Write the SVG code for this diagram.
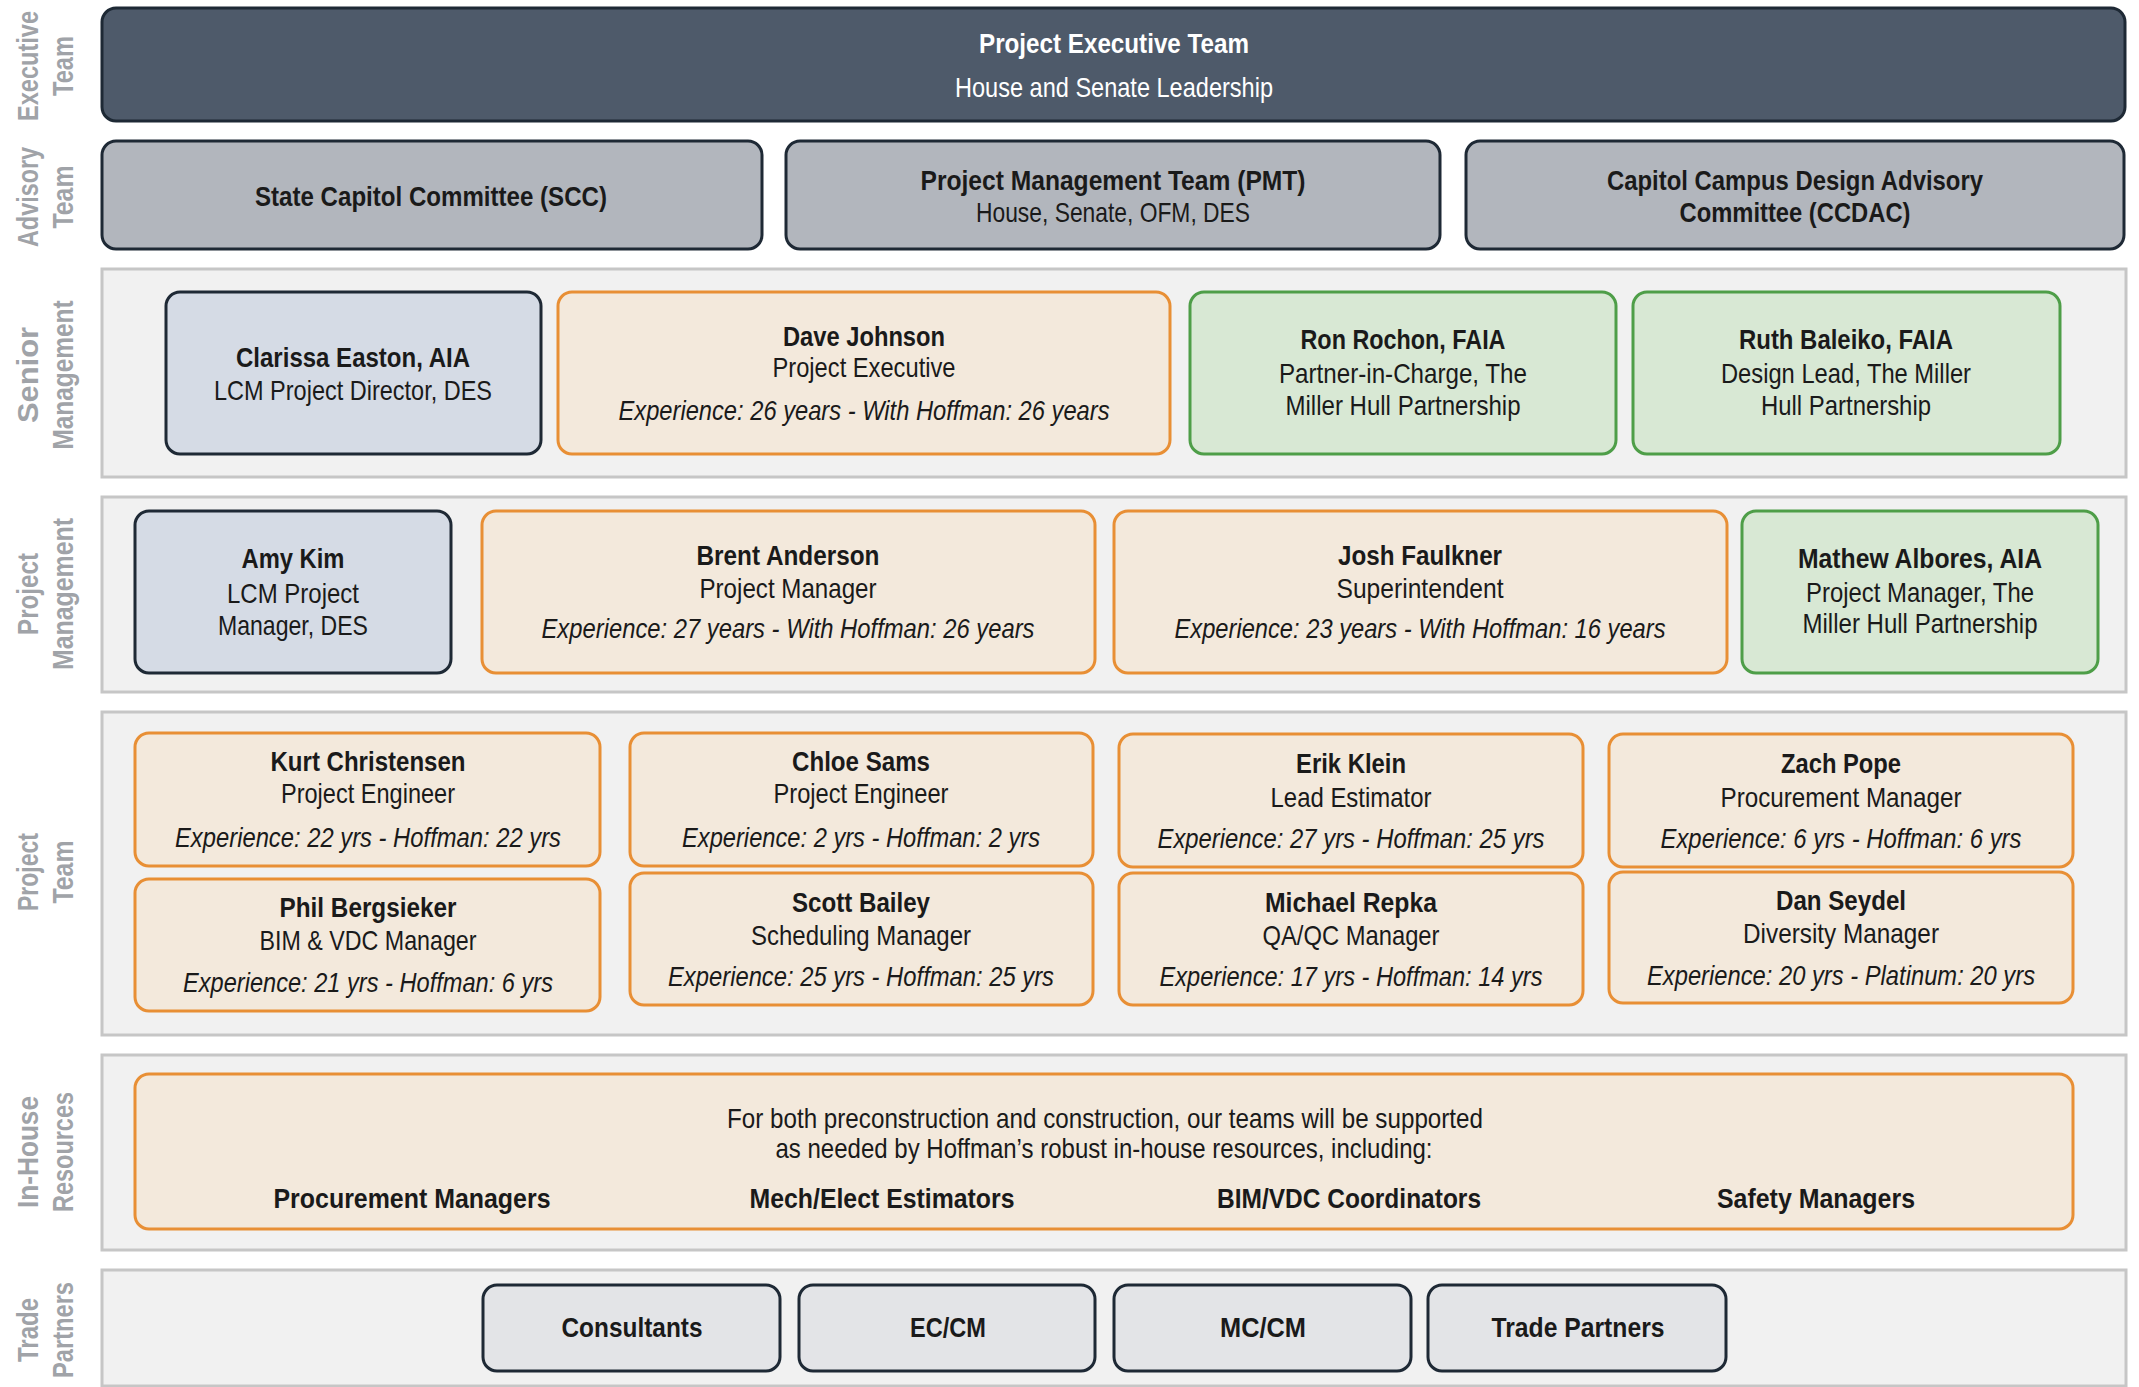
<svg xmlns="http://www.w3.org/2000/svg" width="2139" height="1387" viewBox="0 0 2139 1387">
<style>
.band{fill:#f1f1f1;stroke:#c6c6c6;stroke-width:3}
.exec{fill:#4e5a6a;stroke:#1e2935;stroke-width:3}
.adv{fill:#b2b6bd;stroke:#1e2935;stroke-width:3}
.des{fill:#d5dbe5;stroke:#1e2935;stroke-width:3}
.hof{fill:#f3e9dc;stroke:#e88f35;stroke-width:3}
.mh{fill:#d8e8d4;stroke:#4e9e48;stroke-width:3}
.tp{fill:#e3e4e7;stroke:#1e2935;stroke-width:3}
text{font-family:"Liberation Sans",Arial,sans-serif;font-size:28px;fill:#1a1a1a;text-anchor:middle}
.n{font-weight:bold}
.e{font-style:italic}
.w{fill:#ffffff}
.lbl{font-size:30px;font-weight:bold;fill:#a0a3a8}
</style>
<rect width="2139" height="1387" fill="#ffffff"/>
<g id="labels">
<text class="lbl" transform="translate(38,66) rotate(-90)" font-size="26" textLength="110" lengthAdjust="spacingAndGlyphs">Executive</text>
<text class="lbl" transform="translate(73,66) rotate(-90)" textLength="60" lengthAdjust="spacingAndGlyphs">Team</text>
<text class="lbl" transform="translate(38,197) rotate(-90)" textLength="100" lengthAdjust="spacingAndGlyphs">Advisory</text>
<text class="lbl" transform="translate(73,197) rotate(-90)" textLength="63" lengthAdjust="spacingAndGlyphs">Team</text>
<text class="lbl" transform="translate(38,375) rotate(-90)" textLength="96" lengthAdjust="spacingAndGlyphs">Senior</text>
<text class="lbl" transform="translate(73,375) rotate(-90)" textLength="149" lengthAdjust="spacingAndGlyphs">Management</text>
<text class="lbl" transform="translate(38,594) rotate(-90)" textLength="82" lengthAdjust="spacingAndGlyphs">Project</text>
<text class="lbl" transform="translate(73,594) rotate(-90)" textLength="152" lengthAdjust="spacingAndGlyphs">Management</text>
<text class="lbl" transform="translate(38,872) rotate(-90)" textLength="78" lengthAdjust="spacingAndGlyphs">Project</text>
<text class="lbl" transform="translate(73,872) rotate(-90)" textLength="63" lengthAdjust="spacingAndGlyphs">Team</text>
<text class="lbl" transform="translate(38,1152) rotate(-90)" textLength="112" lengthAdjust="spacingAndGlyphs">In-House</text>
<text class="lbl" transform="translate(73,1152) rotate(-90)" textLength="120" lengthAdjust="spacingAndGlyphs">Resources</text>
<text class="lbl" transform="translate(38,1330) rotate(-90)" textLength="64" lengthAdjust="spacingAndGlyphs">Trade</text>
<text class="lbl" transform="translate(73,1330) rotate(-90)" textLength="96" lengthAdjust="spacingAndGlyphs">Partners</text>
</g>
<g id="bands">
<rect class="band" x="102" y="269" width="2024" height="208"/>
<rect class="band" x="102" y="497" width="2024" height="195"/>
<rect class="band" x="102" y="712" width="2024" height="323"/>
<rect class="band" x="102" y="1055" width="2024" height="195"/>
<rect class="band" x="102" y="1270" width="2024" height="116"/>
</g>
<g id="executive">
<rect class="exec" x="102" y="8" width="2023" height="113" rx="14"/>
<text class="n w" x="1114" y="53" textLength="270" lengthAdjust="spacingAndGlyphs">Project Executive Team</text>
<text class="w" x="1114" y="97" textLength="318" lengthAdjust="spacingAndGlyphs">House and Senate Leadership</text>
</g>
<g id="scc">
<rect class="adv" x="102" y="141" width="660" height="108" rx="14"/>
<text class="n" x="431" y="206" font-size="29" textLength="352" lengthAdjust="spacingAndGlyphs">State Capitol Committee (SCC)</text>
</g>
<g id="pmt">
<rect class="adv" x="786" y="141" width="654" height="108" rx="14"/>
<text class="n" x="1113" y="190" textLength="385" lengthAdjust="spacingAndGlyphs">Project Management Team (PMT)</text>
<text x="1113" y="222" textLength="274" lengthAdjust="spacingAndGlyphs">House, Senate, OFM, DES</text>
</g>
<g id="ccdac">
<rect class="adv" x="1466" y="141" width="658" height="108" rx="14"/>
<text class="n" x="1795" y="190" textLength="376" lengthAdjust="spacingAndGlyphs">Capitol Campus Design Advisory</text>
<text class="n" x="1795" y="222" textLength="231" lengthAdjust="spacingAndGlyphs">Committee (CCDAC)</text>
</g>
<g id="clarissa">
<rect class="des" x="166" y="292" width="375" height="162" rx="14"/>
<text class="n" x="353" y="367" textLength="234" lengthAdjust="spacingAndGlyphs">Clarissa Easton, AIA</text>
<text x="353" y="400" textLength="278" lengthAdjust="spacingAndGlyphs">LCM Project Director, DES</text>
</g>
<g id="dave">
<rect class="hof" x="558" y="292" width="612" height="162" rx="14"/>
<text class="n" x="864" y="346" textLength="162" lengthAdjust="spacingAndGlyphs">Dave Johnson</text>
<text x="864" y="377" textLength="183" lengthAdjust="spacingAndGlyphs">Project Executive</text>
<text class="e" x="864" y="420" textLength="491" lengthAdjust="spacingAndGlyphs">Experience: 26 years - With Hoffman: 26 years</text>
</g>
<g id="ron">
<rect class="mh" x="1190" y="292" width="426" height="162" rx="14"/>
<text class="n" x="1403" y="349" textLength="205" lengthAdjust="spacingAndGlyphs">Ron Rochon, FAIA</text>
<text x="1403" y="383" textLength="248" lengthAdjust="spacingAndGlyphs">Partner-in-Charge, The</text>
<text x="1403" y="415" textLength="235" lengthAdjust="spacingAndGlyphs">Miller Hull Partnership</text>
</g>
<g id="ruth">
<rect class="mh" x="1633" y="292" width="427" height="162" rx="14"/>
<text class="n" x="1846" y="349" textLength="214" lengthAdjust="spacingAndGlyphs">Ruth Baleiko, FAIA</text>
<text x="1846" y="383" textLength="250" lengthAdjust="spacingAndGlyphs">Design Lead, The Miller</text>
<text x="1846" y="415" textLength="170" lengthAdjust="spacingAndGlyphs">Hull Partnership</text>
</g>
<g id="amy">
<rect class="des" x="135" y="511" width="316" height="162" rx="14"/>
<text class="n" x="293" y="568" textLength="103" lengthAdjust="spacingAndGlyphs">Amy Kim</text>
<text x="293" y="603" textLength="132" lengthAdjust="spacingAndGlyphs">LCM Project</text>
<text x="293" y="635" textLength="150" lengthAdjust="spacingAndGlyphs">Manager, DES</text>
</g>
<g id="brent">
<rect class="hof" x="482" y="511" width="613" height="162" rx="14"/>
<text class="n" x="788" y="565" textLength="183" lengthAdjust="spacingAndGlyphs">Brent Anderson</text>
<text x="788" y="598" textLength="177" lengthAdjust="spacingAndGlyphs">Project Manager</text>
<text class="e" x="788" y="638" textLength="493" lengthAdjust="spacingAndGlyphs">Experience: 27 years - With Hoffman: 26 years</text>
</g>
<g id="josh">
<rect class="hof" x="1114" y="511" width="613" height="162" rx="14"/>
<text class="n" x="1420" y="565" textLength="164" lengthAdjust="spacingAndGlyphs">Josh Faulkner</text>
<text x="1420" y="598" textLength="167" lengthAdjust="spacingAndGlyphs">Superintendent</text>
<text class="e" x="1420" y="638" textLength="491" lengthAdjust="spacingAndGlyphs">Experience: 23 years - With Hoffman: 16 years</text>
</g>
<g id="mathew">
<rect class="mh" x="1742" y="511" width="356" height="162" rx="14"/>
<text class="n" x="1920" y="568" textLength="244" lengthAdjust="spacingAndGlyphs">Mathew Albores, AIA</text>
<text x="1920" y="602" textLength="228" lengthAdjust="spacingAndGlyphs">Project Manager, The</text>
<text x="1920" y="633" textLength="235" lengthAdjust="spacingAndGlyphs">Miller Hull Partnership</text>
</g>
<g id="kurt">
<rect class="hof" x="135" y="733" width="465" height="133" rx="14"/>
<text class="n" x="368" y="771" textLength="195" lengthAdjust="spacingAndGlyphs">Kurt Christensen</text>
<text x="368" y="803" textLength="174" lengthAdjust="spacingAndGlyphs">Project Engineer</text>
<text class="e" x="368" y="847" textLength="386" lengthAdjust="spacingAndGlyphs">Experience: 22 yrs - Hoffman: 22 yrs</text>
</g>
<g id="chloe">
<rect class="hof" x="630" y="733" width="463" height="133" rx="14"/>
<text class="n" x="861" y="771" textLength="138" lengthAdjust="spacingAndGlyphs">Chloe Sams</text>
<text x="861" y="803" textLength="175" lengthAdjust="spacingAndGlyphs">Project Engineer</text>
<text class="e" x="861" y="847" textLength="358" lengthAdjust="spacingAndGlyphs">Experience: 2 yrs - Hoffman: 2 yrs</text>
</g>
<g id="erik">
<rect class="hof" x="1119" y="734" width="464" height="133" rx="14"/>
<text class="n" x="1351" y="773" textLength="110" lengthAdjust="spacingAndGlyphs">Erik Klein</text>
<text x="1351" y="807" textLength="161" lengthAdjust="spacingAndGlyphs">Lead Estimator</text>
<text class="e" x="1351" y="848" textLength="387" lengthAdjust="spacingAndGlyphs">Experience: 27 yrs - Hoffman: 25 yrs</text>
</g>
<g id="zach">
<rect class="hof" x="1609" y="734" width="464" height="133" rx="14"/>
<text class="n" x="1841" y="773" textLength="120" lengthAdjust="spacingAndGlyphs">Zach Pope</text>
<text x="1841" y="807" textLength="241" lengthAdjust="spacingAndGlyphs">Procurement Manager</text>
<text class="e" x="1841" y="848" textLength="361" lengthAdjust="spacingAndGlyphs">Experience: 6 yrs - Hoffman: 6 yrs</text>
</g>
<g id="phil">
<rect class="hof" x="135" y="879" width="465" height="132" rx="14"/>
<text class="n" x="368" y="917" textLength="177" lengthAdjust="spacingAndGlyphs">Phil Bergsieker</text>
<text x="368" y="950" textLength="217" lengthAdjust="spacingAndGlyphs">BIM &amp; VDC Manager</text>
<text class="e" x="368" y="992" textLength="370" lengthAdjust="spacingAndGlyphs">Experience: 21 yrs - Hoffman: 6 yrs</text>
</g>
<g id="scott">
<rect class="hof" x="630" y="873" width="463" height="132" rx="14"/>
<text class="n" x="861" y="912" textLength="138" lengthAdjust="spacingAndGlyphs">Scott Bailey</text>
<text x="861" y="945" textLength="220" lengthAdjust="spacingAndGlyphs">Scheduling Manager</text>
<text class="e" x="861" y="986" textLength="386" lengthAdjust="spacingAndGlyphs">Experience: 25 yrs - Hoffman: 25 yrs</text>
</g>
<g id="michael">
<rect class="hof" x="1119" y="873" width="464" height="132" rx="14"/>
<text class="n" x="1351" y="912" textLength="172" lengthAdjust="spacingAndGlyphs">Michael Repka</text>
<text x="1351" y="945" textLength="177" lengthAdjust="spacingAndGlyphs">QA/QC Manager</text>
<text class="e" x="1351" y="986" textLength="383" lengthAdjust="spacingAndGlyphs">Experience: 17 yrs - Hoffman: 14 yrs</text>
</g>
<g id="dan">
<rect class="hof" x="1609" y="872" width="464" height="131" rx="14"/>
<text class="n" x="1841" y="910" textLength="130" lengthAdjust="spacingAndGlyphs">Dan Seydel</text>
<text x="1841" y="943" textLength="196" lengthAdjust="spacingAndGlyphs">Diversity Manager</text>
<text class="e" x="1841" y="985" textLength="388" lengthAdjust="spacingAndGlyphs">Experience: 20 yrs - Platinum: 20 yrs</text>
</g>
<g id="inhouse">
<rect class="hof" x="135" y="1074" width="1938" height="155" rx="14"/>
<text x="1105" y="1128" textLength="756" lengthAdjust="spacingAndGlyphs">For both preconstruction and construction, our teams will be supported</text>
<text x="1104" y="1158" textLength="657" lengthAdjust="spacingAndGlyphs">as needed by Hoffman’s robust in-house resources, including:</text>
<text class="n" x="412" y="1208" textLength="277" lengthAdjust="spacingAndGlyphs">Procurement Managers</text>
<text class="n" x="882" y="1208" textLength="265" lengthAdjust="spacingAndGlyphs">Mech/Elect Estimators</text>
<text class="n" x="1349" y="1208" textLength="264" lengthAdjust="spacingAndGlyphs">BIM/VDC Coordinators</text>
<text class="n" x="1816" y="1208" textLength="198" lengthAdjust="spacingAndGlyphs">Safety Managers</text>
</g>
<g id="consultants">
<rect class="tp" x="483" y="1285" width="297" height="86" rx="14"/>
<text class="n" x="632" y="1337" textLength="141" lengthAdjust="spacingAndGlyphs">Consultants</text>
</g>
<g id="eccm">
<rect class="tp" x="799" y="1285" width="296" height="86" rx="14"/>
<text class="n" x="948" y="1337" textLength="76" lengthAdjust="spacingAndGlyphs">EC/CM</text>
</g>
<g id="mccm">
<rect class="tp" x="1114" y="1285" width="297" height="86" rx="14"/>
<text class="n" x="1263" y="1337" textLength="86" lengthAdjust="spacingAndGlyphs">MC/CM</text>
</g>
<g id="tradepartners">
<rect class="tp" x="1428" y="1285" width="298" height="86" rx="14"/>
<text class="n" x="1578" y="1337" textLength="173" lengthAdjust="spacingAndGlyphs">Trade Partners</text>
</g>
<g id="connectors"></g>
</svg>
